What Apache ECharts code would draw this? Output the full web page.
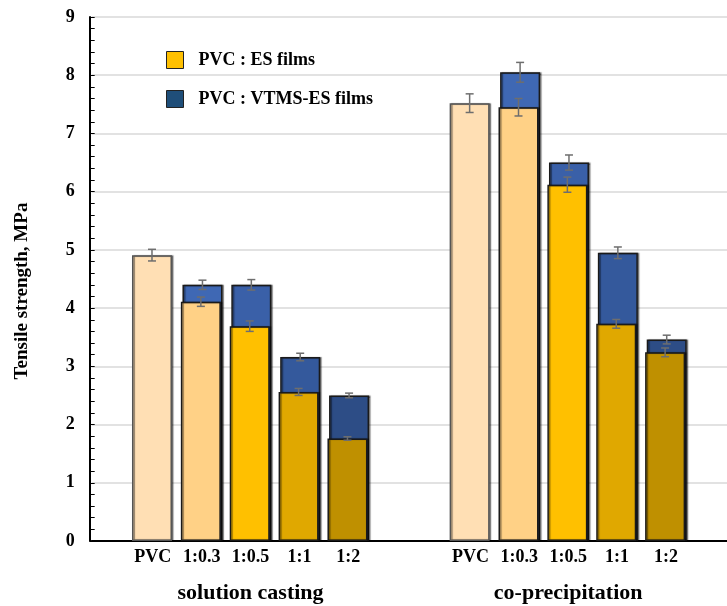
<!DOCTYPE html>
<html>
<head>
<meta charset="utf-8">
<script src="https://cdn.jsdelivr.net/npm/echarts@6/dist/echarts.min.js"></script>
<style>html,body{margin:0;padding:0;background:#fff;}#c{width:727px;height:606px;}</style>
</head>
<body>
<div id="c"></div>
<script>
// ---- data ----
var ratioLabels = ['PVC', '1:0.3', '1:0.5', '1:1', '1:2'];
var groupNames = ['solution casting', 'co-precipitation'];
var legendNames = ['PVC : ES films', 'PVC : VTMS-ES films'];
var yTicks = [0, 1, 2, 3, 4, 5, 6, 7, 8, 9];

var esSolution = [4.91, 4.11, 3.69, 2.56, 1.76];
var esSolutionErr = [0.10, 0.08, 0.09, 0.06, 0.03];
var vtmsSolution = [null, 4.40, 4.40, 3.16, 2.50];
var vtmsSolutionErr = [null, 0.08, 0.09, 0.065, 0.04];

var esCopre = [7.52, 7.45, 6.12, 3.73, 3.24];
var esCopreErr = [0.16, 0.15, 0.13, 0.075, 0.075];
var vtmsCopre = [null, 8.05, 6.50, 4.95, 3.46];
var vtmsCopreErr = [null, 0.17, 0.13, 0.10, 0.075];

// ---- styling ----
var esColors = ['#FFDFB4', '#FFD186', '#FFC000', '#E0A800', '#BF9000'];
var vtmsColors = [null, '#3F68B4', '#3A60A8', '#34599C', '#2D4D86'];

// ---- layout of category slots ----
var nSlots = 26;
var groupStart = [2, 15];
function slotOf(g, i) { return groupStart[g] + 2 * i; }

var slotKeys = [];
for (var s = 0; s < nSlots; s++) slotKeys.push('s' + s);
var slotLabel = {};
[0, 1].forEach(function (g) {
  ratioLabels.forEach(function (lab, i) {
    var t = '{a|' + lab + '}';
    if (i === 2) t += '\n{b|' + groupNames[g] + '}';
    slotLabel[slotKeys[slotOf(g, i)]] = t;
  });
});

var esData = [], vtmsData = [], esErr = [], vtmsErr = [];
for (var s2 = 0; s2 < nSlots; s2++) { esData.push(null); vtmsData.push(null); }
[[esSolution, esSolutionErr, vtmsSolution, vtmsSolutionErr], [esCopre, esCopreErr, vtmsCopre, vtmsCopreErr]].forEach(function (set, g) {
  for (var i = 0; i < 5; i++) {
    var idx = slotOf(g, i);
    esData[idx] = { value: set[0][i], itemStyle: { color: esColors[i], borderColor: i === 0 ? '#555' : '#1a1a1a' } };
    esErr.push([idx, set[0][i], set[1][i]]);
    if (set[2][i] != null) {
      vtmsData[idx] = { value: set[2][i], itemStyle: { color: vtmsColors[i] } };
      vtmsErr.push([idx, set[2][i], set[3][i]]);
    }
  }
});

function errRender(offset) {
  return function (params, api) {
    var x = api.coord([api.value(0), api.value(1)])[0] + offset;
    var yTop = api.coord([api.value(0), api.value(1) + api.value(2)])[1];
    var yBot = api.coord([api.value(0), api.value(1) - api.value(2)])[1];
    var cap = 4;
    var st = { stroke: '#6e6e6e', lineWidth: 1.5 };
    return {
      type: 'group',
      children: [
        { type: 'line', shape: { x1: x, y1: yTop, x2: x, y2: yBot }, style: st },
        { type: 'line', shape: { x1: x - cap, y1: yTop, x2: x + cap, y2: yTop }, style: st },
        { type: 'line', shape: { x1: x - cap, y1: yBot, x2: x + cap, y2: yBot }, style: st }
      ]
    };
  };
}

var font = '"Liberation Serif", "Times New Roman", serif';
var barStyle = { borderColor: '#1a1a1a', borderWidth: 1.5, shadowColor: 'rgba(0,0,0,0.45)', shadowBlur: 1, shadowOffsetX: 1.5 };
var chart = echarts.init(document.getElementById('c'));
chart.setOption({
  animation: false,
  backgroundColor: '#fff',
  grid: { left: 91.7, top: 17, bottom: 65, width: 640.6 },
  legend: {
    orient: 'vertical',
    left: 166,
    top: 51,
    padding: 0,
    itemWidth: 17,
    itemHeight: 17,
    itemGap: 21,
    textStyle: { fontFamily: font, fontWeight: 'bold', fontSize: 18, lineHeight: 17, color: '#000', padding: [0, 0, 0, 10] },
    data: [
      { name: legendNames[0], icon: 'rect', itemStyle: { color: '#FFC000', borderColor: '#222', borderWidth: 1 } },
      { name: legendNames[1], icon: 'rect', itemStyle: { color: '#1F4E79', borderColor: '#222', borderWidth: 1 } }
    ]
  },
  xAxis: {
    type: 'category',
    data: slotKeys,
    axisLine: { show: true, lineStyle: { color: '#000', width: 2 } },
    axisTick: { show: false },
    splitLine: { show: false },
    axisLabel: {
      interval: 0,
      margin: 7,
      formatter: function (v) { return slotLabel[v] || ''; },
      rich: {
        a: { fontFamily: font, fontWeight: 'bold', fontSize: 18, color: '#000', lineHeight: 18 },
        b: { fontFamily: font, fontWeight: 'bold', fontSize: 22, color: '#000', lineHeight: 22, padding: [32, 0, 0, 0] }
      }
    }
  },
  yAxis: {
    type: 'value',
    min: yTicks[0],
    max: yTicks[yTicks.length - 1],
    interval: 1,
    offset: 2,
    name: 'Tensile strength, MPa',
    nameLocation: 'middle',
    nameGap: 58,
    nameTextStyle: { fontFamily: font, fontWeight: 'bold', fontSize: 19, color: '#000', padding: [0, 24, 0, 0] },
    axisLine: { show: true, lineStyle: { color: '#000', width: 2 } },
    axisTick: { show: true, inside: true, length: 5, lineStyle: { color: '#000', width: 1 } },
    minorTick: { show: true, splitNumber: 5, length: 5, lineStyle: { color: '#000', width: 1 } },
    splitLine: { show: true, lineStyle: { color: '#d9d9d9', width: 1.5 } },
    axisLabel: { margin: 15, fontFamily: font, fontWeight: 'bold', fontSize: 18, color: '#000' }
  },
  series: [
    { name: legendNames[0], type: 'bar', data: esData, barWidth: 40, barGap: '-96%', z: 3, itemStyle: barStyle },
    { name: legendNames[1], type: 'bar', data: vtmsData, barWidth: 40, z: 2, itemStyle: barStyle },
    { type: 'custom', data: vtmsErr, renderItem: errRender(0.8), z: 4, encode: { x: 0, y: 1 } },
    { type: 'custom', data: esErr, renderItem: errRender(-0.8), z: 5, encode: { x: 0, y: 1 } }
  ]
});
</script>
</body>
</html>
